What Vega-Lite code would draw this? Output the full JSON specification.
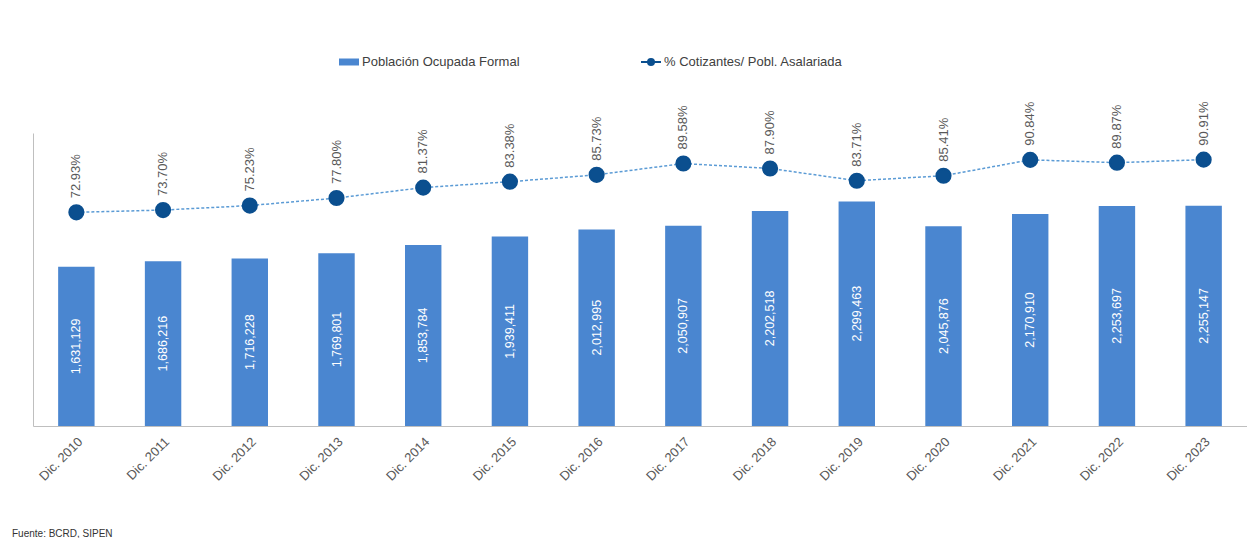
{
  "$schema": "https://vega.github.io/schema/vega-lite/v6.json",
  "width": 1214,
  "height": 293,
  "autosize": {"type": "none"},
  "padding": {"left": 33, "top": 133, "right": 0, "bottom": 112},
  "background": "white",
  "title": {"text": "Fuente: BCRD, SIPEN", "orient": "bottom", "anchor": "start", "frame": "group", "fontSize": 10, "fontWeight": "normal", "color": "#333333", "font": "Liberation Sans", "dx": -21, "offset": 46},
  "data": {"values": [
    {"periodo": "Dic. 2010", "poblacion": 1631129, "pct": 0.7293},
    {"periodo": "Dic. 2011", "poblacion": 1686216, "pct": 0.7370},
    {"periodo": "Dic. 2012", "poblacion": 1716228, "pct": 0.7523},
    {"periodo": "Dic. 2013", "poblacion": 1769801, "pct": 0.7780},
    {"periodo": "Dic. 2014", "poblacion": 1853784, "pct": 0.8137},
    {"periodo": "Dic. 2015", "poblacion": 1939411, "pct": 0.8338},
    {"periodo": "Dic. 2016", "poblacion": 2012995, "pct": 0.8573},
    {"periodo": "Dic. 2017", "poblacion": 2050907, "pct": 0.8958},
    {"periodo": "Dic. 2018", "poblacion": 2202518, "pct": 0.8790},
    {"periodo": "Dic. 2019", "poblacion": 2299463, "pct": 0.8371},
    {"periodo": "Dic. 2020", "poblacion": 2045876, "pct": 0.8541},
    {"periodo": "Dic. 2021", "poblacion": 2170910, "pct": 0.9084},
    {"periodo": "Dic. 2022", "poblacion": 2253697, "pct": 0.8987},
    {"periodo": "Dic. 2023", "poblacion": 2255147, "pct": 0.9091}
  ]},
  "encoding": {
    "x": {"field": "periodo", "type": "nominal", "sort": null,
      "scale": {"paddingInner": 0.58, "paddingOuter": 0.29},
      "axis": {"title": null, "labelAngle": -45, "ticks": false, "domainColor": "#bfbfbf", "labelColor": "#595959", "labelFontSize": 13, "labelFont": "Liberation Sans", "labelPadding": 9}}
  },
  "layer": [
    {
      "mark": {"type": "bar"},
      "encoding": {
        "y": {"field": "poblacion", "type": "quantitative", "scale": {"domain": [0, 3000000], "nice": false},
          "axis": {"title": null, "labels": false, "ticks": false, "grid": false, "domainColor": "#bfbfbf"}},
        "fill": {"datum": "Población Ocupada Formal", "type": "nominal", "scale": {"range": ["#4a86d0"]},
          "legend": {"title": null, "orient": "none", "legendX": 305, "legendY": -82, "padding": 0,
            "symbolType": "M-1,-0.35L1,-0.35L1,0.35L-1,0.35Z", "symbolSize": 400, "labelOffset": 2, "labelLimit": 0,
            "labelFontSize": 13, "labelFont": "Liberation Sans", "labelColor": "#404040"}}
      }
    },
    {
      "mark": {"type": "text", "angle": -90, "align": "center", "baseline": "middle", "color": "white", "fontSize": 12.5, "font": "Liberation Sans"},
      "encoding": {
        "y": {"field": "poblacion", "type": "quantitative", "scale": {"domain": [0, 6000000], "nice": false}, "axis": null},
        "text": {"field": "poblacion", "type": "quantitative", "format": ",d"}
      }
    },
    {
      "mark": {"type": "line", "strokeDash": [3, 2], "strokeWidth": 1.5, "color": "#5b9bd5"},
      "encoding": {
        "y": {"field": "pct", "type": "quantitative", "scale": {"domain": [0, 1], "nice": false}, "axis": null}
      }
    },
    {
      "mark": {"type": "point", "filled": true, "fill": "#0b4f8f", "size": 200, "opacity": 1},
      "encoding": {
        "y": {"field": "pct", "type": "quantitative", "scale": {"domain": [0, 1], "nice": false}, "axis": null},
        "stroke": {"datum": "% Cotizantes/ Pobl. Asalariada", "type": "nominal", "scale": {"range": ["#0b4f8f"]},
          "legend": {"title": null, "orient": "none", "legendX": 607, "legendY": -82, "padding": 0,
            "symbolType": "M-1,0L1,0M-0.3,0A0.3,0.3 0 1,0 0.3,0A0.3,0.3 0 1,0 -0.3,0", "symbolSize": 400, "labelOffset": 2, "labelLimit": 0,
            "symbolStrokeWidth": 2, "symbolFillColor": "#0b4f8f", "symbolOpacity": 1,
            "labelFontSize": 13, "labelFont": "Liberation Sans", "labelColor": "#404040",
            "encode": {"symbols": {"update": {"fill": {"value": "#0b4f8f"}, "fillOpacity": {"value": 1}, "opacity": {"value": 1}}}}}}
      }
    },
    {
      "mark": {"type": "text", "angle": -90, "align": "left", "baseline": "middle", "dx": 14, "color": "#595959", "fontSize": 13, "font": "Liberation Sans"},
      "encoding": {
        "y": {"field": "pct", "type": "quantitative", "scale": {"domain": [0, 1], "nice": false}, "axis": null},
        "text": {"field": "pct", "type": "quantitative", "format": ".2%"}
      }
    }
  ],
  "resolve": {"scale": {"y": "independent"}},
  "config": {"view": {"stroke": null}}
}
